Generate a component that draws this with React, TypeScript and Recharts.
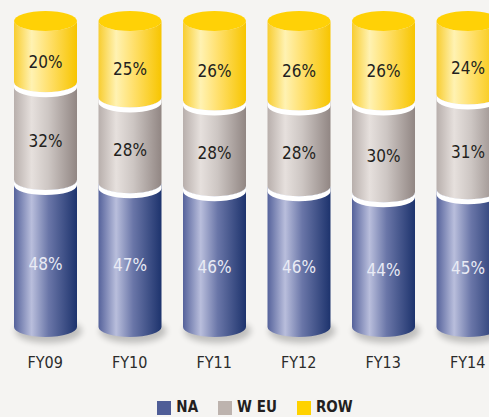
import { BarChart, Bar, XAxis, YAxis } from 'recharts';

const years = ['FY09', 'FY10', 'FY11', 'FY12', 'FY13', 'FY14'];
const naShare = [48, 47, 46, 46, 44, 45];
const weuShare = [32, 28, 28, 28, 30, 31];
const rowShare = [20, 25, 26, 26, 26, 24];

const data = years.map((year, i) => ({
  year,
  NA: naShare[i],
  WEU: weuShare[i],
  ROW: rowShare[i],
}));

const FONT = "'Liberation Sans Narrow', 'DejaVu Sans Condensed', 'Arial Narrow', sans-serif";
const RY = 10;
const GAP = 5;

// left edge, highlight, mid, right edge
const BODY = {
  NA: ['#55629b', '#b9bedc', '#6a76a8', '#1d336d'],
  WEU: ['#b8afac', '#e6e0dd', '#cdc6c3', '#918683'],
  ROW: ['#f8cd30', '#fff2b2', '#ffe06e', '#f7c500'],
};

const LEGEND = [
  { name: 'NA', color: '#4f5d97' },
  { name: 'W EU', color: '#bdb3ae' },
  { name: 'ROW', color: '#ffd200' },
];

const Segment = (props) => {
  const { x, y, width, height, index, seriesKey, payload } = props;
  const w = width;
  const rx = w / 2;
  const yTop = y;
  const yBot = y + height;
  const c = BODY[seriesKey];
  const gid = `grad-${seriesKey}-${index}`;
  const body = `M${x},${yTop} A${rx},${RY} 0 0 0 ${x + w},${yTop} L${x + w},${yBot} A${rx},${RY} 0 0 1 ${x},${yBot} Z`;
  const isNA = seriesKey === 'NA';
  const isTop = seriesKey === 'ROW';
  return (
    <g>
      <defs>
        <linearGradient id={gid} x1="0" y1="0" x2="1" y2="0">
          <stop offset="0%" stopColor={c[0]} />
          <stop offset="28%" stopColor={c[1]} />
          <stop offset="55%" stopColor={c[2]} />
          <stop offset="100%" stopColor={c[3]} />
        </linearGradient>
        <filter id={`blur-${index}`} x="-50%" y="-50%" width="200%" height="200%">
          <feGaussianBlur stdDeviation="3" />
        </filter>
      </defs>
      {isNA && (
        <ellipse
          cx={x + rx + 3}
          cy={yBot + 4}
          rx={rx + 2}
          ry={RY + 2}
          fill="#000"
          opacity={0.22}
          filter={`url(#blur-${index})`}
        />
      )}
      <path d={body} fill={`url(#${gid})`} />
      {!isNA && (
        <path
          d={`M${x},${yBot} A${rx},${RY} 0 0 0 ${x + w},${yBot} L${x + w},${yBot + GAP} A${rx},${RY} 0 0 1 ${x},${yBot + GAP} Z`}
          fill="#ffffff"
        />
      )}
      {isTop && <ellipse cx={x + rx} cy={yTop} rx={rx} ry={RY} fill="#ffd106" />}
      <text
        x={x + rx}
        y={yTop + height / 2 + RY}
        textAnchor="middle"
        dominantBaseline="central"
        fontFamily={FONT}
        fontSize={17}
        fill={isNA ? '#e9ebf5' : '#231f20'}
      >
        {`${payload[seriesKey]}%`}
      </text>
    </g>
  );
};

export default function App() {
  return (
    <div
      style={{
        position: 'fixed',
        left: 0,
        top: 0,
        width: 489,
        height: 417,
        overflow: 'hidden',
        background: '#f5f4f2',
      }}
    >
      <BarChart
        width={510}
        height={417}
        data={data}
        margin={{ top: 21, right: 0, bottom: 60, left: 3 }}
        barSize={63}
      >
        <XAxis
          dataKey="year"
          height={30}
          axisLine={false}
          tickLine={false}
          tickSize={0}
          tickMargin={30}
          tick={{ fill: '#2b2b2b', fontSize: 16, fontFamily: FONT }}
          interval={0}
        />
        <YAxis hide domain={[0, 100]} />
        <Bar dataKey="NA" stackId="a" isAnimationActive={false} shape={(p) => <Segment {...p} seriesKey="NA" />} />
        <Bar dataKey="WEU" name="W EU" stackId="a" isAnimationActive={false} shape={(p) => <Segment {...p} seriesKey="WEU" />} />
        <Bar dataKey="ROW" stackId="a" isAnimationActive={false} shape={(p) => <Segment {...p} seriesKey="ROW" />} />
      </BarChart>
      <div
        style={{
          position: 'absolute',
          top: 399,
          left: 0,
          width: 510,
          display: 'flex',
          justifyContent: 'center',
          gap: 20,
          fontFamily: FONT,
          fontWeight: 'bold',
          fontSize: 15,
          lineHeight: '17px',
          color: '#231f20',
        }}
      >
        {LEGEND.map((item) => (
          <div key={item.name} style={{ display: 'flex', alignItems: 'center', gap: 5 }}>
            <span style={{ width: 14, height: 14, background: item.color, display: 'inline-block' }} />
            <span>{item.name}</span>
          </div>
        ))}
      </div>
    </div>
  );
}
